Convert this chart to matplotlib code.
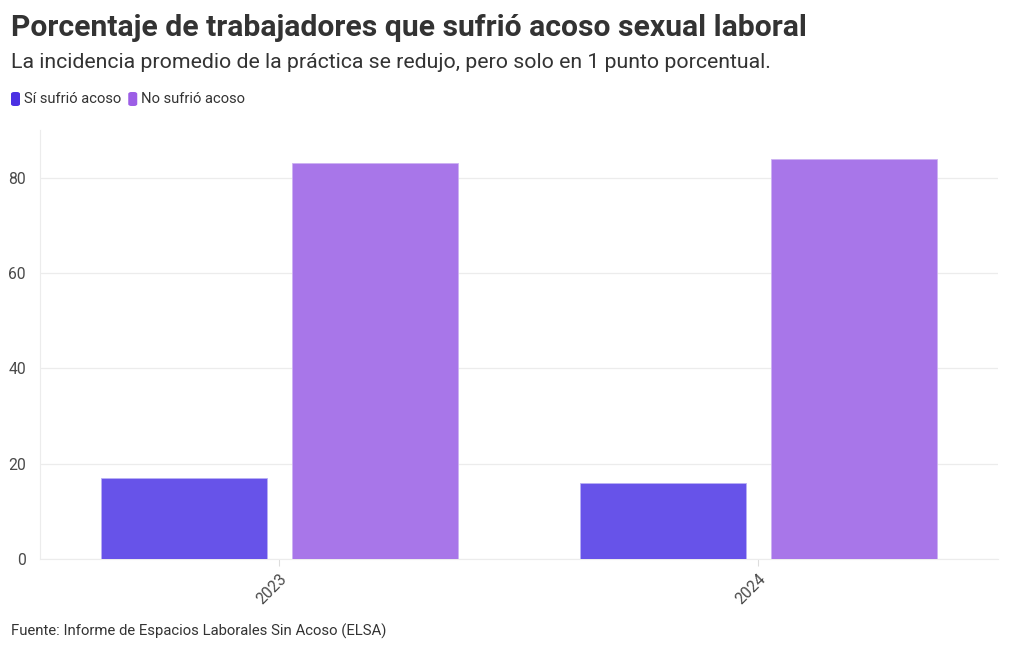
import matplotlib.pyplot as plt
import numpy as np
from matplotlib.patches import FancyBboxPatch

plt.rcParams["font.family"] = ["Roboto", "DejaVu Sans"]

years = ["2023", "2024"]
si_acoso = [17, 16]
no_acoso = [83, 84]
series_names = ["Sí sufrió acoso", "No sufrió acoso"]

BAR_COLORS = ["#6753E9", "#A876E9"]
LEGEND_COLORS = ["#4B30E3", "#9C5EE6"]

fig = plt.figure(figsize=(10.2, 6.5), dpi=100)
ax = fig.add_axes([40 / 1020, 1 - 559 / 650, 958 / 1020, 429 / 650])

x = np.arange(len(years))
width = 0.347
offset = 0.2
ax.bar(x - offset, si_acoso, width, color=BAR_COLORS[0], edgecolor="#b9b0f5", linewidth=0.6, zorder=3)
ax.bar(x + offset, no_acoso, width, color=BAR_COLORS[1], edgecolor="#cdb2f2", linewidth=0.6, zorder=3)

ax.set_xlim(-0.5, 1.5)
ax.set_ylim(0, 90)
ax.set_yticks([0, 20, 40, 60, 80])
ax.set_xticks(x)
ax.set_xticklabels(years, rotation=45, ha="right", rotation_mode="anchor")
ax.tick_params(axis="both", labelsize=11.3, colors="#4a4a4a", length=0, pad=10)
ax.tick_params(axis="x", length=5, color="#dddddd", pad=4)
ax.grid(axis="y", color="#ececec", linewidth=0.9, zorder=0)
for side in ["top", "right"]:
    ax.spines[side].set_visible(False)
ax.spines["left"].set_color("#ececec")
ax.spines["bottom"].set_color("#ececec")

fig.text(11 / 1020, 1 - 28 / 650, "Porcentaje de trabajadores que sufrió acoso sexual laboral",
         fontsize=21.7, fontweight="bold", color="#333333", va="center")
fig.text(11 / 1020, 1 - 63 / 650,
         "La incidencia promedio de la práctica se redujo, pero solo en 1 punto porcentual.",
         fontsize=15.3, color="#333333", va="center")

# legend with rounded square markers
lx = 11
for name, color in zip(series_names, LEGEND_COLORS):
    patch = FancyBboxPatch((lx / 1020, 1 - 106 / 650), 9 / 1020, 14 / 650,
                           boxstyle="round,pad=0,rounding_size=0.003",
                           transform=fig.transFigure, facecolor=color, edgecolor="none")
    fig.patches.append(patch)
    t = fig.text((lx + 13) / 1020, 1 - 99 / 650, name, fontsize=10.6, color="#333333", va="center")
    fig.canvas.draw()
    bb = t.get_window_extent()
    lx = bb.x1 + 7

fig.text(11 / 1020, 1 - 631 / 650, "Fuente: Informe de Espacios Laborales Sin Acoso (ELSA)",
         fontsize=10.7, color="#333333", va="center")

fig.savefig("out.png", dpi=100)
